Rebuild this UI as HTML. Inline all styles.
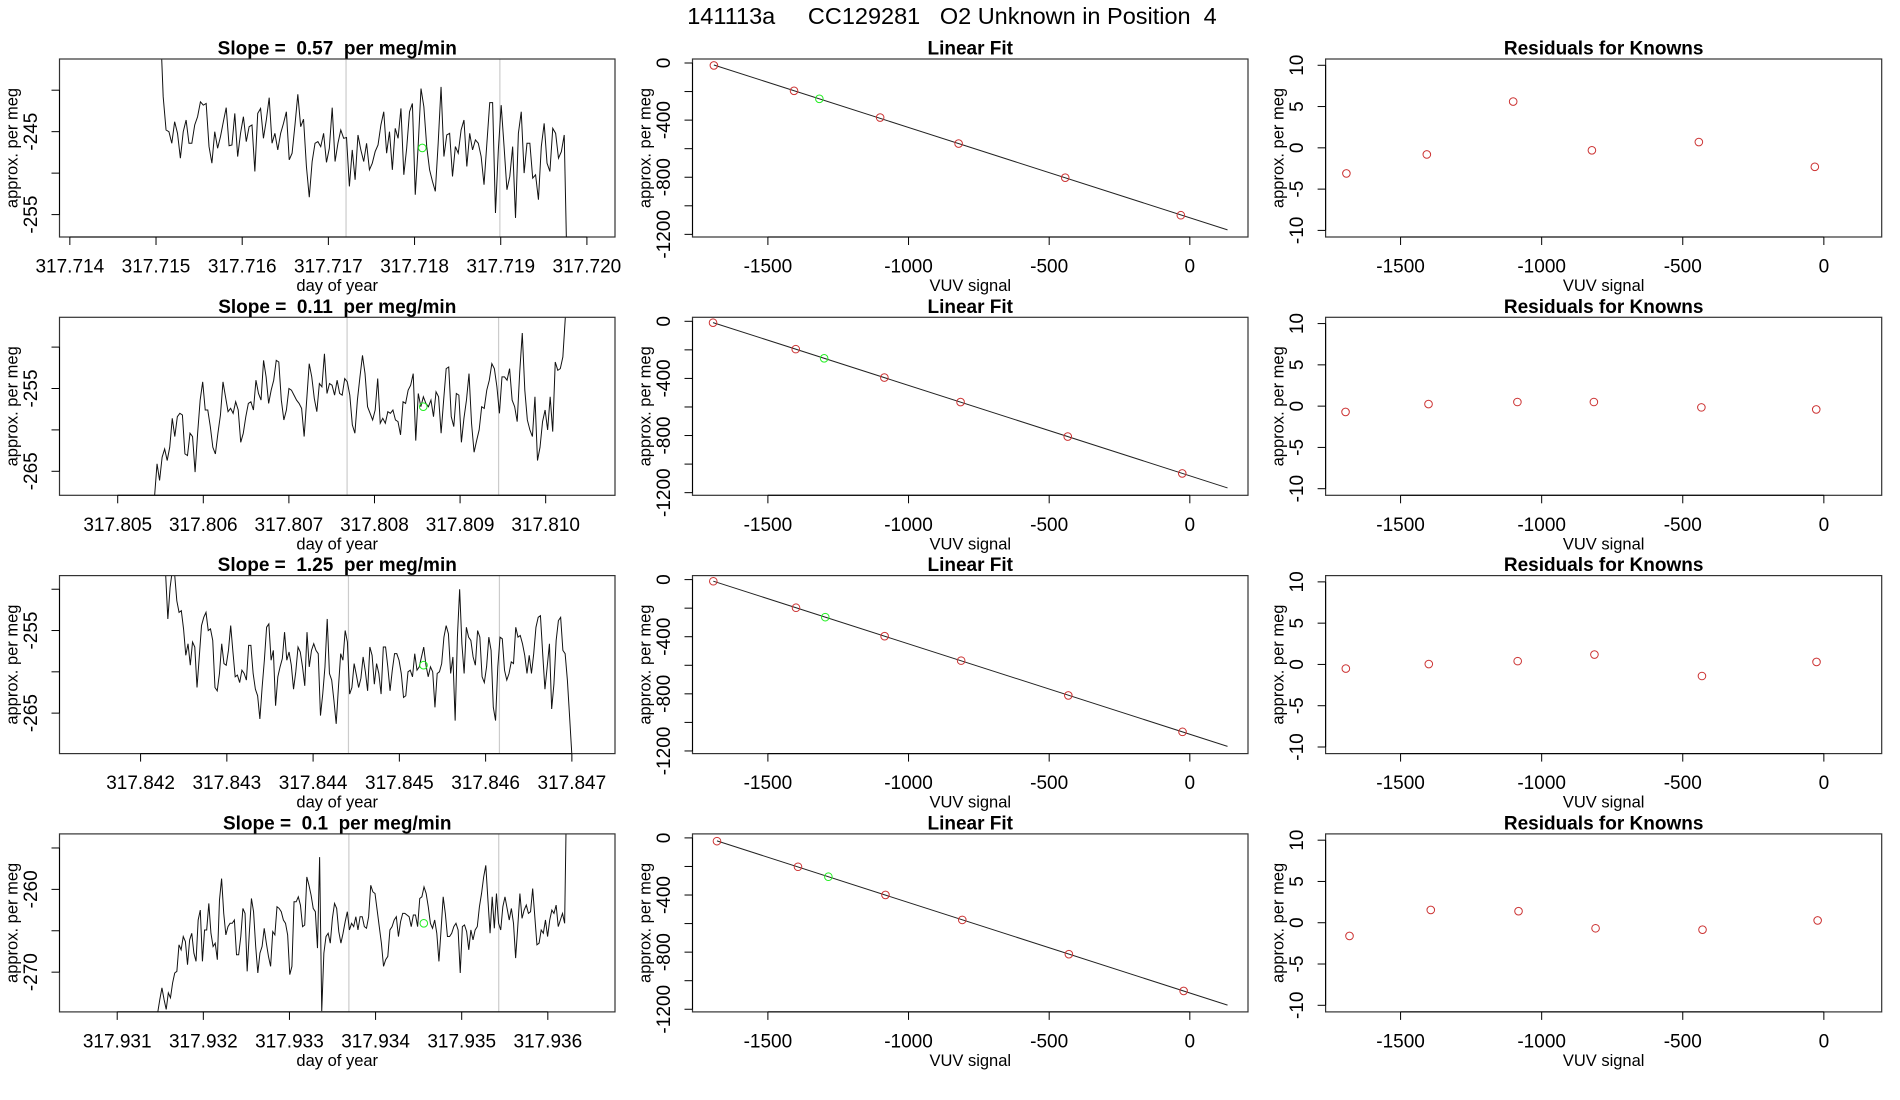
<!DOCTYPE html>
<html><head><meta charset="utf-8"><title>141113a CC129281 O2 Unknown in Position 4</title>
<style>
html,body{margin:0;padding:0;background:#fff;}
svg{display:block;font-family:"Liberation Sans",Arial,sans-serif;}
.tick{font-size:19px;fill:#000;}
.ptitle{font-size:19px;font-weight:bold;fill:#000;}
.axt{font-size:16.5px;fill:#000;}
</style></head>
<body>
<svg id="chart" width="1900" height="1100" viewBox="0 0 1900 1100" xmlns="http://www.w3.org/2000/svg">
<rect width="1900" height="1100" fill="#fff"/>
<text x="952" y="16" text-anchor="middle" dominant-baseline="central" style="font-size:23.5px;white-space:pre" xml:space="preserve">141113a     CC129281   O2 Unknown in Position  4</text>
</svg>
<script>
// ---------- data ----------
const slopeLabels = ["0.57","0.11","1.25","0.1"];
const tsTimeRange = [[317.71505,317.71977],[317.80543,317.81026],[317.84229,317.84700],[317.93147,317.93622]];
const tsXDomain = [[317.71388,317.720326],[317.80432,317.81081],[317.84106,317.84750],[317.93033,317.93678]];
const tsYDomain = [[-257.7,-236.24],[-267.9,-246.4],[-269.9,-248.35],[-274.8,-253.3]];
const tsXTicks = [
 [317.714,317.715,317.716,317.717,317.718,317.719,317.720],
 [317.805,317.806,317.807,317.808,317.809,317.810],
 [317.842,317.843,317.844,317.845,317.846,317.847],
 [317.931,317.932,317.933,317.934,317.935,317.936]];
const tsYTicks = [[-240,-245,-250,-255],[-250,-255,-260,-265],[-250,-255,-260,-265],[-255,-260,-265,-270]];
const tsYLabels = [[null,"-245",null,"-255"],[null,"-255",null,"-265"],[null,"-255",null,"-265"],[null,"-260",null,"-270"]];
const tsGrayLines = [[317.717205,317.71899],[317.80768,317.80945],[317.84441,317.84616],[317.93369,317.93543]];
const tsGreen = [[317.71809,-246.96],[317.80857,-257.2],[317.84528,-259.2],[317.93456,-264.1]];
const ts1 = [-232,-240.8,-244.8,-245,-246.4,-243.8,-245.2,-248.2,-245,-243.6,-246.4,-246.4,-244.2,-243.2,-241.4,-241.8,-241.6,-246.8,-248.8,-245,-247,-245.6,-243.8,-242.1,-246.7,-246.6,-242.8,-248,-245.2,-243.2,-246.2,-244.4,-244.2,-249.8,-242.8,-242.2,-245.8,-243.6,-240.9,-246.4,-245.2,-247.2,-245.2,-244,-242.6,-248.4,-247.6,-244.2,-240.5,-244.4,-243.5,-249.2,-252.9,-248.6,-246.4,-246.2,-246.8,-245.2,-248.7,-247,-242.1,-248.6,-246.4,-244.8,-245.8,-245.7,-251.6,-247.2,-250.8,-245.4,-247.2,-248.6,-246.4,-249.6,-248.8,-247.4,-246.6,-244.2,-242.6,-247.6,-245,-249.6,-244.6,-245.8,-242.2,-250.2,-247,-242.6,-241.6,-252.6,-246.8,-239.8,-242,-246.8,-249.6,-251,-252.2,-246.4,-239.6,-248,-245.4,-245.2,-250.4,-246.8,-247.6,-244.8,-243.6,-249.2,-245.2,-247.2,-246,-246.4,-248,-251.4,-246.4,-241.5,-241.5,-254.8,-247.2,-241.8,-246.8,-252,-250.4,-246.8,-255.4,-245.2,-242.6,-250,-246.4,-246.4,-250.6,-250.2,-253.2,-246.8,-244,-248.8,-249.8,-244.6,-245.2,-248.2,-247.4,-245.4,-262];
const ts2 = [-268.1,-264.1,-266.1,-263.3,-262.3,-263.7,-262.1,-258.6,-260.8,-258.4,-258,-258.2,-262.9,-263.1,-260.4,-260.8,-265.1,-260.4,-256.4,-254.2,-257.6,-257.6,-259.6,-262.1,-262.9,-260.4,-258.2,-254.2,-256,-257.8,-257.4,-258,-256.6,-257.6,-261.5,-260.4,-258.4,-256.8,-256.6,-257.6,-254,-255.6,-256.4,-251.6,-253.6,-256.8,-255.2,-254,-251.6,-251.8,-256.4,-258.8,-257.6,-255,-255.2,-255.8,-256.4,-256.8,-257.4,-260.8,-256.4,-252,-253.6,-256.2,-257.8,-254.4,-254.8,-250.8,-255.6,-254.4,-254.6,-255.8,-254,-255.6,-255.8,-253.8,-254.2,-255.8,-259.4,-260.4,-256.4,-253.6,-251,-253.2,-257.2,-258,-258.8,-257.6,-253.8,-259.2,-258.6,-259.2,-257.8,-258,-257.6,-258.8,-259,-260.6,-256.6,-256.8,-255.2,-254.6,-253.2,-261.3,-255.6,-257.2,-256,-256.8,-257.2,-256.4,-258.4,-255.4,-256,-260.4,-256.4,-252.6,-252.4,-258.4,-259.6,-255.6,-255.8,-261.5,-258.6,-256.4,-253.2,-259.2,-262.7,-261.3,-260,-257.2,-257.4,-255.2,-254,-252,-252.6,-254.8,-258,-253.6,-253.6,-254,-252.6,-256.4,-257.2,-259,-253,-248.3,-255.2,-258.8,-260,-260.8,-256,-263.7,-262.1,-259,-257.6,-260,-256,-260.2,-251.8,-252.8,-252.6,-251.2,-246.3,-244.3];
const ts3 = [-248.1,-253.6,-249.8,-247.7,-248.1,-251.4,-252.8,-252.6,-254.8,-258,-256.6,-259.2,-256.4,-257,-261.9,-258.2,-254.4,-253.4,-252.8,-255,-254.8,-256.2,-261.9,-262.3,-260.2,-256.6,-259,-259.2,-257.4,-254.4,-257.6,-260.6,-260.4,-261.3,-259.8,-260.2,-261,-256.8,-256.8,-260.2,-262.1,-262.9,-265.7,-261.9,-258.6,-254.6,-254.2,-258.6,-257.4,-264.1,-260.6,-259.4,-258.4,-255.2,-258.6,-257.6,-259.2,-262.1,-260,-257,-257.6,-259.4,-261.7,-255.2,-259.4,-257.4,-256.6,-257.4,-257.8,-265.3,-262.7,-259.4,-253.6,-260.2,-261,-263.5,-266.3,-261.9,-257.8,-258.6,-255,-256.4,-262.7,-261.9,-259,-260.4,-261.9,-260.8,-258.2,-260,-262.3,-257,-258,-261.5,-259,-260.2,-262.7,-257,-257,-259.4,-262.3,-259.8,-257.8,-257.8,-258.6,-260.2,-263.1,-262.9,-260,-259.8,-260.6,-257.8,-259.8,-259.4,-258.2,-257,-259.2,-260.6,-259.4,-260,-264.3,-260.2,-260,-259,-255.8,-254.4,-255.4,-260.2,-258.2,-265.9,-255.8,-250,-256.6,-260.2,-254.6,-255.8,-256.2,-258.2,-259.2,-255,-255.8,-260.6,-261.3,-259.4,-255.8,-257.4,-264.3,-265.9,-259.4,-255.8,-256,-259.8,-261,-260.2,-258.8,-259,-254.6,-255.8,-255.6,-256.6,-258,-260.2,-258,-260.2,-257.8,-254.6,-253.4,-253.2,-257.8,-262.1,-259.4,-256.6,-264.5,-261.5,-256.2,-253.8,-253.4,-257.4,-257.8,-261,-265.5,-270.1];
const ts4 = [-274.9,-273.3,-271.9,-273.3,-274.5,-272.5,-273.1,-271.3,-270.1,-269.9,-266.7,-267.3,-265.7,-266.3,-269.1,-266.1,-265.3,-267.7,-268.7,-263.7,-262.5,-268.7,-264.9,-264.9,-261.7,-265.3,-266.9,-266.5,-268.5,-261.3,-258.7,-262.9,-265.5,-264.5,-264.1,-264.1,-263.7,-267.9,-267.9,-265.7,-262.3,-262.9,-269.9,-265.3,-261.1,-262.7,-266.9,-270.1,-267.7,-266.9,-264.7,-266.5,-268.1,-269.3,-265.1,-265.5,-262.1,-262.3,-262.7,-263.7,-264.1,-265.5,-270.3,-269.3,-261.5,-261.5,-260.9,-261.9,-264.5,-264.3,-258.5,-259.5,-260.7,-262.3,-262.7,-267.1,-256.1,-274.7,-267.7,-265.7,-265.3,-266.5,-263.5,-261.7,-262.3,-265.1,-266.5,-265.3,-263.9,-262.7,-264.9,-264.1,-264.5,-263.3,-264.9,-263.3,-263.3,-264.5,-264.7,-263.3,-259.5,-260.3,-260.5,-262.5,-264.5,-266.5,-269.3,-268.5,-268.1,-264.9,-264.5,-263.7,-263.3,-265.7,-263.9,-262.9,-262.9,-263.1,-263.3,-264.5,-263.1,-263.1,-264.5,-261.1,-260.9,-259.7,-260.5,-262.1,-264.1,-264.7,-263.7,-265.3,-268.7,-264.9,-260.9,-262.9,-265.7,-265.7,-265.3,-264.5,-264.1,-264.9,-270.1,-264.5,-264.3,-265.1,-267.3,-264.9,-266.1,-264.9,-264.5,-262.1,-260.5,-258.5,-257.1,-261.3,-265.3,-260.9,-264.7,-260.5,-264.1,-264.9,-262.1,-260.9,-262.3,-263.7,-262.3,-264.1,-268.3,-264.5,-260.5,-263.5,-262.5,-261.9,-262.9,-262.7,-259.9,-263.3,-266.7,-266.5,-264.9,-265.3,-263.7,-265.7,-263.7,-262.5,-262.9,-261.9,-264.5,-263.7,-262.9,-264.1,-246.8];
const tsSeries = [ts1, ts2, ts3, ts4];

const knownX = [
 [-1692,-1407,-1101,-822,-443,-32],
 [-1695,-1401,-1086,-815,-434,-27],
 [-1694,-1400,-1085,-813,-432,-26],
 [-1681,-1393,-1082,-809,-430,-22]];
const residuals = [
 [-3.1,-0.8,5.6,-0.3,0.7,-2.3],
 [-0.7,0.25,0.5,0.5,-0.15,-0.4],
 [-0.5,0.05,0.4,1.2,-1.4,0.3],
 [-1.6,1.55,1.4,-0.67,-0.84,0.28]];
const fitIntercept = [-1084,-1082,-1083,-1086];
const fitSlope = [-0.6325,-0.6330,-0.6328,-0.6335];
const fitXEnd = [134,134,134,134];
const unknownX = [-1317,-1300,-1296,-1285];
const fitXDomain = [-1768,206.8];
const fitYDomain = [-1218.5,28];
const fitXTicks = [-1500,-1000,-500,0];
const fitYTicks = [0,-200,-400,-600,-800,-1000,-1200];
const fitYLabels = ["0",null,"-400",null,"-800",null,"-1200"];
const resXDomain = [-1765.7,205];
const resYDomain = [-10.8,10.76];
const resYTicks = [10,5,0,-5,-10];

// ---------- drawing ----------
const NS = "http://www.w3.org/2000/svg";
const svg = document.getElementById("chart");
const colBox = [[59.5,615],[692.5,1248],[1325.6,1881.7]];
const rowTop = r => 59 + 258.3*r;
const rowBot = r => 237 + 258.3*r;

function mk(tag, attrs, parent){
  const e = document.createElementNS(NS, tag);
  for (const k in attrs) e.setAttribute(k, attrs[k]);
  (parent||svg).appendChild(e);
  return e;
}
function scale(d, r){ return v => r[0] + (v-d[0])/(d[1]-d[0])*(r[1]-r[0]); }
function fmtTick(v){ return v.toFixed(3); }

function frame(g, L, R, T, B){
  const b = mk("rect",{x:L,y:T,width:R-L,height:B-T,fill:"none",stroke:"#333","stroke-width":1.2},g);
  
  
}
function xAxis(g, ticks, labels, sx, B){
  const ax = mk("g",{},g);
  
  
  mk("line",{x1:sx(ticks[0]),x2:sx(ticks[ticks.length-1]),y1:B,y2:B,stroke:"#000","stroke-width":1},ax);
  ticks.forEach((t,i)=>{
    const x = sx(t);
    mk("line",{x1:x,x2:x,y1:B,y2:B+8,stroke:"#000","stroke-width":1},ax);
    const tx = mk("text",{x:x,y:B+30,"text-anchor":"middle","dominant-baseline":"central",class:"tick"},ax);
    tx.textContent = labels[i];
    
    
  });
}
function yAxis(g, ticks, labels, sy, L){
  const ax = mk("g",{},g);
  
  
  mk("line",{x1:L,x2:L,y1:sy(ticks[0]),y2:sy(ticks[ticks.length-1]),stroke:"#000","stroke-width":1},ax);
  ticks.forEach((t,i)=>{
    const y = sy(t);
    mk("line",{x1:L-8,x2:L,y1:y,y2:y,stroke:"#000","stroke-width":1},ax);
    if (labels[i] !== null){
      const tx = mk("text",{x:L-28,y:y,"text-anchor":"middle","dominant-baseline":"central",class:"tick",transform:`rotate(-90,${L-28},${y})`},ax);
      tx.textContent = labels[i];
      
      
    }
  });
}
function labels(g, L, R, T, B, title, xl, yl){
  const cx = (L+R)/2;
  const t = mk("text",{x:cx,y:T-10,"text-anchor":"middle","dominant-baseline":"central",class:"ptitle",style:"white-space:pre","xml:space":"preserve"},g);
  t.textContent = title;
  
  
  const x = mk("text",{x:cx,y:B+49,"text-anchor":"middle","dominant-baseline":"central",class:"axt"},g);
  x.textContent = xl;
  
  
  const cy = (T+B)/2;
  const y = mk("text",{x:L-47,y:cy,"text-anchor":"middle","dominant-baseline":"central",class:"axt",transform:`rotate(-90,${L-47},${cy})`},g);
  y.textContent = yl;
  
  
}

for (let r=0; r<4; r++){
  const T = rowTop(r), B = rowBot(r);
  {
    const [L,R] = colBox[0];
    const g = mk("g",{});
    
    
    const sx = scale(tsXDomain[r],[L,R]);
    const sy = scale(tsYDomain[r],[B,T]);
    const cid = "clipts"+r;
    const cp = mk("clipPath",{id:cid},g);
    mk("rect",{x:L,y:T,width:R-L,height:B-T},cp);
    tsGrayLines[r].forEach(t=>{
      const gl = mk("line",{x1:sx(t),x2:sx(t),y1:T,y2:B,stroke:"#cccccc","stroke-width":1.2},g);
      
      
    });
    const vals = tsSeries[r];
    const [t0,t1] = tsTimeRange[r];
    const n = vals.length;
    const pts = vals.map((v,i)=>{
      const t = t0 + (t1-t0)*i/(n-1);
      return sx(t).toFixed(2)+","+sy(v).toFixed(2);
    }).join(" ");
    const pl = mk("polyline",{points:pts,fill:"none",stroke:"#111","stroke-width":1,"clip-path":`url(#${cid})`},g);
    
    
    const gp = mk("circle",{cx:sx(tsGreen[r][0]),cy:sy(tsGreen[r][1]),r:3.8,fill:"none",stroke:"#22ee22","stroke-width":1},g);
    
    
    frame(g,L,R,T,B);
    xAxis(g, tsXTicks[r], tsXTicks[r].map(fmtTick), sx, B);
    yAxis(g, tsYTicks[r], tsYLabels[r], sy, L);
    labels(g,L,R,T,B,"Slope =  "+slopeLabels[r]+"  per meg/min","day of year","approx. per meg");
  }
  {
    const [L,R] = colBox[1];
    const g = mk("g",{});
    
    
    const sx = scale(fitXDomain,[L,R]);
    const sy = scale(fitYDomain,[B,T]);
    const fy = x => fitIntercept[r] + fitSlope[r]*x;
    const x0 = knownX[r][0];
    const ln = mk("line",{x1:sx(x0),y1:sy(fy(x0)),x2:sx(fitXEnd[r]),y2:sy(fy(fitXEnd[r])),stroke:"#222","stroke-width":1},g);
    
    
    knownX[r].forEach((x,i)=>{
      const c = mk("circle",{cx:sx(x),cy:sy(fy(x)+residuals[r][i]),r:3.8,fill:"none",stroke:"#cc3333","stroke-width":1},g);
      
      
    });
    const u = mk("circle",{cx:sx(unknownX[r]),cy:sy(fy(unknownX[r])),r:3.8,fill:"none",stroke:"#22ee22","stroke-width":1},g);
    
    
    frame(g,L,R,T,B);
    xAxis(g, fitXTicks, fitXTicks.map(String), sx, B);
    yAxis(g, fitYTicks, fitYLabels, sy, L);
    labels(g,L,R,T,B,"Linear Fit","VUV signal","approx. per meg");
  }
  {
    const [L,R] = colBox[2];
    const g = mk("g",{});
    
    
    const sx = scale(resXDomain,[L,R]);
    const sy = scale(resYDomain,[B,T]);
    knownX[r].forEach((x,i)=>{
      const c = mk("circle",{cx:sx(x),cy:sy(residuals[r][i]),r:3.8,fill:"none",stroke:"#cc3333","stroke-width":1},g);
      
      
    });
    frame(g,L,R,T,B);
    xAxis(g, fitXTicks, fitXTicks.map(String), sx, B);
    yAxis(g, resYTicks, resYTicks.map(String), sy, L);
    labels(g,L,R,T,B,"Residuals for Knowns","VUV signal","approx. per meg");
  }
}
</script>
</body></html>
